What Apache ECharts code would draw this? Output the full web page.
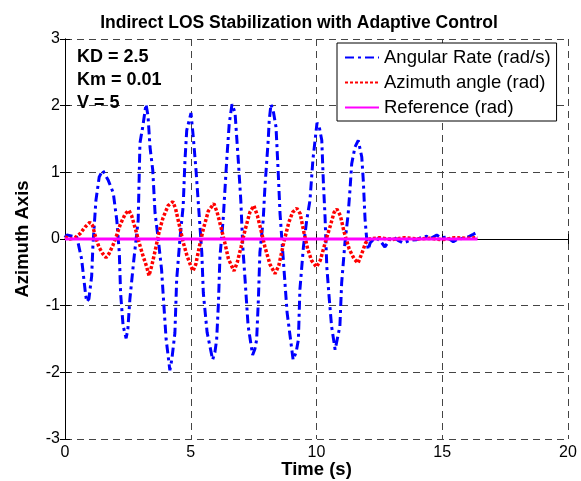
<!DOCTYPE html>
<html>
<head>
<meta charset="utf-8">
<script src="https://cdn.jsdelivr.net/npm/echarts@6/dist/echarts.min.js"></script>
<style>
html,body{margin:0;padding:0;background:#fff;}
#chart{width:581px;height:481px;}
</style>
</head>
<body>
<div id="chart"></div>
<script>
// ---- data ----
var rateTime = [0,0.07,0.47,0.66,0.80,0.86,0.95,1.06,1.11,1.23,1.36,1.50,1.72,1.92,2.06,2.16,2.21,2.31,2.43,2.50,2.58,2.74,2.91,2.98,3.09,3.22,3.30,3.38,3.49,3.58,3.71,3.84,3.90,4.02,4.17,4.25,4.37,4.44,4.57,4.70,4.77,4.84,5.01,5.10,5.21,5.34,5.44,5.50,5.65,5.87,5.96,6.03,6.10,6.16,6.29,6.43,6.53,6.64,6.76,6.89,6.99,7.07,7.16,7.28,7.46,7.55,7.62,7.69,7.75,7.88,7.95,8.08,8.12,8.19,8.29,8.39,8.48,8.55,8.68,8.83,9.07,9.19,9.28,9.34,9.48,9.61,9.74,9.86,10.02,10.10,10.21,10.27,10.34,10.41,10.51,10.60,10.74,10.81,10.93,11.00,11.13,11.26,11.33,11.40,11.53,11.66,11.80,11.86,11.93,12.00,12.06,12.13,12.33,12.52,12.72,12.92,13.05,13.24,13.45,13.72,13.98,14.15,14.38,14.55,14.78,14.95,15.18,15.44,15.63,15.84,16.02,16.23,16.43];
var rateValue = [0.02,0.06,0.03,-0.30,-0.77,-0.94,-0.90,-0.56,-0.10,0.58,0.93,1.03,0.88,0.69,0.28,-0.21,-0.81,-1.30,-1.49,-1.35,-0.90,-0.30,0.28,1.44,1.68,2.02,1.85,1.38,1.03,0.39,-0.01,-0.46,-0.81,-1.50,-1.97,-1.80,-1.41,-0.61,0.00,0.50,1.18,1.63,1.89,1.53,1.03,0.33,-0.21,-0.81,-1.40,-1.81,-1.70,-1.51,-0.97,-0.27,0.30,1.18,1.73,2.02,1.90,1.18,0.58,-0.12,-0.61,-1.30,-1.74,-1.65,-1.51,-0.90,-0.20,0.28,0.78,1.48,1.78,2.02,1.90,1.68,0.98,0.38,-0.31,-1.10,-1.81,-1.70,-1.51,-0.76,-0.12,0.28,0.58,1.20,1.74,1.70,1.48,0.88,0.33,-0.42,-0.91,-1.31,-1.66,-1.68,-1.31,-0.66,-0.06,0.38,0.73,1.13,1.38,1.48,1.23,0.88,0.30,-0.02,-0.16,-0.06,0.02,-0.02,-0.12,0.00,0.03,-0.02,-0.06,-0.02,-0.01,0.02,0.04,0.01,0.06,0.02,0.03,-0.04,0.00,0.01,0.03,0.07,0.11];

var angleTime = [0,0.2,0.4,0.6,0.8,0.99,1.1,1.2,1.35,1.5,1.63,1.75,1.9,2.05,2.2,2.4,2.54,2.65,2.8,2.95,3.1,3.25,3.34,3.45,3.6,3.75,3.9,4.1,4.29,4.4,4.55,4.7,4.85,5.0,5.09,5.2,5.35,5.5,5.7,5.92,6.05,6.2,6.35,6.5,6.72,6.85,7.0,7.15,7.35,7.51,7.65,7.8,7.95,8.15,8.35,8.5,8.7,8.9,9.05,9.22,9.35,9.5,9.65,9.8,10.0,10.15,10.35,10.55,10.7,10.81,10.95,11.1,11.3,11.5,11.65,11.8,11.95,12.1,12.5,13.0,13.5,14.0,14.5,15.0,15.5,16.0,16.4];
var angleValue = [0.03,0.00,0.02,0.08,0.18,0.25,0.20,0.05,-0.12,-0.22,-0.28,-0.22,-0.10,0.05,0.22,0.38,0.43,0.35,0.15,-0.06,-0.25,-0.42,-0.55,-0.40,-0.15,0.12,0.32,0.50,0.56,0.45,0.20,-0.05,-0.25,-0.40,-0.48,-0.38,-0.10,0.15,0.42,0.53,0.40,0.18,-0.05,-0.30,-0.48,-0.35,-0.12,0.12,0.40,0.50,0.35,0.12,-0.12,-0.38,-0.52,-0.40,-0.05,0.25,0.40,0.46,0.38,0.10,-0.15,-0.32,-0.42,-0.32,-0.05,0.20,0.40,0.45,0.35,0.10,-0.15,-0.30,-0.36,-0.22,-0.06,0.00,0.02,-0.01,0.02,0.00,0.01,-0.01,0.02,0.01,0.02];

var refTime = [0, 16.4];
var refValue = [0, 0];

var xTicks = [0, 5, 10, 15, 20];
var yTicks = [-3, -2, -1, 0, 1, 2, 3];

var seriesNames = ['Angular Rate (rad/s)', 'Azimuth angle (rad)', 'Reference (rad)'];
var annotations = ['KD = 2.5', 'Km = 0.01', 'V = 5'];

function pairs(t, v) { return t.map(function (x, i) { return [x, v[i]]; }); }

var FONT = '"Liberation Sans", Arial, sans-serif';
var chart = echarts.init(document.getElementById('chart'), null, {renderer: 'canvas'});

var axisCommon = {
  axisLine: {show: true, lineStyle: {color: '#000', width: 1}},
  axisTick: {show: true, inside: true, length: 5, lineStyle: {color: '#000'}},
  axisLabel: {color: '#000', fontSize: 16, fontFamily: FONT}
};

chart.setOption({
  animation: false,
  backgroundColor: '#fff',
  title: {
    text: 'Indirect LOS Stabilization with Adaptive Control',
    left: 294, top: 9, textAlign: 'center',
    textStyle: {fontSize: 17.5, fontWeight: 'bold', fontFamily: FONT, color: '#000'}
  },
  grid: {left: 65, top: 39, right: 13, bottom: 42, containLabel: false, outerBoundsMode: 'none'},
  legend: {
    orient: 'vertical', left: 337, top: 43,
    padding: [5, 6, 4, 7],
    itemWidth: 34, itemHeight: 14, itemGap: 6,
    itemStyle: {opacity: 0, borderWidth: 0},
    borderColor: '#000', borderWidth: 1, backgroundColor: '#fff', borderRadius: 0,
    textStyle: {fontSize: 18.5, lineHeight: 19, fontFamily: FONT, color: '#000'},
    data: seriesNames.slice()
  },
  xAxis: [
    Object.assign({}, axisCommon, {
      type: 'value', min: 0, max: 20, interval: 5,
      name: 'Time (s)', nameLocation: 'middle', nameGap: 21, nameMoveOverlap: false,
      nameTextStyle: {fontSize: 18.5, fontWeight: 'bold', fontFamily: FONT, color: '#000'},
      axisLabel: {color: '#000', fontSize: 16, fontFamily: FONT, margin: 6,
        formatter: function (v) { return xTicks.indexOf(v) >= 0 ? String(v) : ''; }},
      splitLine: {show: true, lineStyle: {color: '#444', type: [7, 5], width: 1}}
    }),
    Object.assign({}, axisCommon, {
      type: 'value', min: 0, max: 20, interval: 5, position: 'top',
      axisLabel: {show: false}, splitLine: {show: false}
    })
  ],
  yAxis: [
    Object.assign({}, axisCommon, {
      type: 'value', min: -3, max: 3, interval: 1,
      name: 'Azimuth Axis', nameLocation: 'middle', nameGap: 33, nameRotate: 90, nameMoveOverlap: false,
      nameTextStyle: {fontSize: 18.5, fontWeight: 'bold', fontFamily: FONT, color: '#000'},
      axisLabel: {color: '#000', fontSize: 16, fontFamily: FONT, margin: 5,
        formatter: function (v) { return yTicks.indexOf(v) >= 0 ? String(v) : ''; }},
      splitLine: {show: true, lineStyle: {color: '#444', type: [7, 5], width: 1}}
    }),
    Object.assign({}, axisCommon, {
      type: 'value', min: -3, max: 3, interval: 1, position: 'right',
      axisLabel: {show: false}, splitLine: {show: false}
    })
  ],
  graphic: annotations.map(function (t, i) {
    return {
      type: 'text', left: 77, top: 48 + i * 23, z: 100,
      style: {text: t, font: 'bold 18px ' + FONT, fill: '#000'}
    };
  }),
  series: [
    {
      name: seriesNames[0], type: 'line', symbol: 'none', z: 3,
      data: pairs(rateTime, rateValue),
      lineStyle: {color: '#0000ff', width: 3, type: [9, 4, 3, 4]},
      itemStyle: {color: '#0000ff'}
    },
    {
      name: seriesNames[1], type: 'line', symbol: 'none', z: 4,
      data: pairs(angleTime, angleValue),
      lineStyle: {color: '#ff0000', width: 3.5, type: [3, 2]},
      itemStyle: {color: '#ff0000'}
    },
    {
      name: seriesNames[2], type: 'line', symbol: 'none', z: 5,
      data: pairs(refTime, refValue),
      lineStyle: {color: '#ff00ff', width: 3},
      itemStyle: {color: '#ff00ff'}
    }
  ]
});
</script>
</body>
</html>
